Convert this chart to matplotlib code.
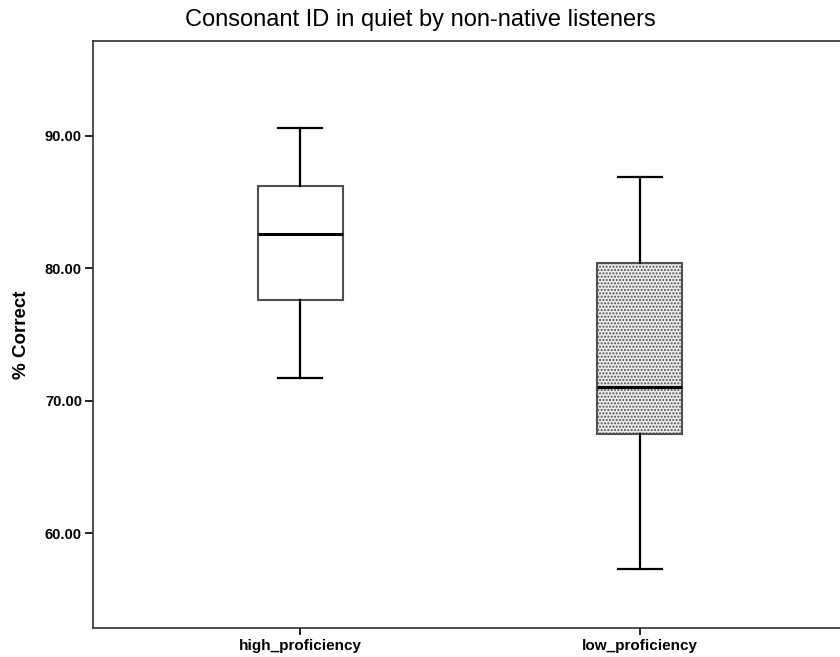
import matplotlib
matplotlib.use("Agg")
import matplotlib.pyplot as plt

plt.rcParams['font.family'] = ['Liberation Sans', 'DejaVu Sans']
plt.rcParams['hatch.linewidth'] = 1.0

# values (five-number summaries)
groups = ['high_proficiency', 'low_proficiency']
whisker_low = [71.75, 57.3]
q1 = [77.6, 67.45]
median = [82.6, 71.0]
q3 = [86.25, 80.4]
whisker_high = [90.6, 86.9]

stats = []
for i, g in enumerate(groups):
    stats.append({'label': g, 'whislo': whisker_low[i], 'q1': q1[i], 'med': median[i],
                  'q3': q3[i], 'whishi': whisker_high[i], 'fliers': []})

fig = plt.figure(figsize=(8.4, 6.57), dpi=100)
ax = fig.add_axes([93 / 840, 29 / 657, 754 / 840, 587 / 657])

bp = ax.bxp(stats, positions=[1, 2], widths=0.25, patch_artist=True, showfliers=False,
            boxprops=dict(linewidth=1.5, edgecolor='#505050'),
            whiskerprops=dict(linewidth=1.6, color='black'),
            capprops=dict(linewidth=1.6, color='black'),
            medianprops=dict(linewidth=2.2, color='black'),
            capwidths=0.13)

bp['boxes'][0].set_facecolor('white')
bp['boxes'][1].set_facecolor('#ececec')
bp['boxes'][1].set_hatch('.....')

ax.set_xlim(1 - 0.609, 2 + 0.609)
ax.set_ylim(52.83, 97.17)
ax.set_yticks([60, 70, 80, 90])
ax.set_yticklabels([f'{v:.2f}' for v in [60, 70, 80, 90]])

for s in ['left', 'bottom', 'top', 'right']:
    ax.spines[s].set_linewidth(1.2)
    ax.spines[s].set_color('#303030')

ax.tick_params(axis='y', length=6, width=1.2, pad=2, labelsize=10.5)
ax.tick_params(axis='x', length=5, width=1.2, pad=3, labelsize=11)
for lab in ax.get_xticklabels() + ax.get_yticklabels():
    lab.set_fontweight('bold')

ax.set_ylabel('% Correct', fontsize=13.5, fontweight='bold')
ax.yaxis.set_label_coords(-0.083, 0.5)

fig.text(0.5, 1 - 26 / 657, 'Consonant ID in quiet by non-native listeners',
         ha='center', va='baseline', fontsize=17)

fig.savefig('out.png', dpi=100)
